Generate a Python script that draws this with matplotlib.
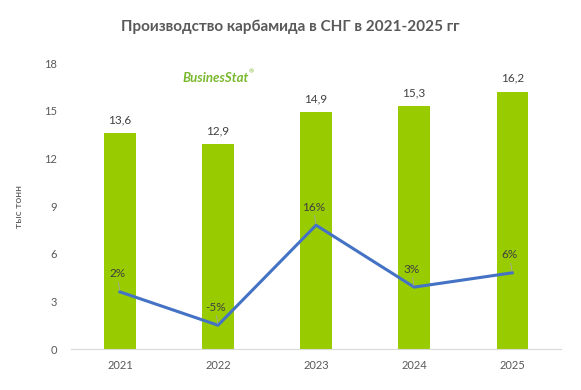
import matplotlib.pyplot as plt

# data
years = ["2021", "2022", "2023", "2024", "2025"]
volume = [13.6, 12.9, 14.9, 15.3, 16.2]
growth = [2, -5, 16, 3, 6]
volume_labels = ["13,6", "12,9", "14,9", "15,3", "16,2"]
growth_labels = ["2%", "-5%", "16%", "3%", "6%"]

plt.rcParams['font.family'] = ['Lato', 'DejaVu Sans']
grey = "#595959"

fig = plt.figure(figsize=(5.81, 3.90), dpi=100)
ax = fig.add_axes([0.122, 0.105, 0.844, 0.733])
x = list(range(len(years)))

ax.bar(x, volume, width=0.32, color="#99CC00", zorder=2)
for i, v in enumerate(volume):
    ax.text(i, v + 0.5, volume_labels[i], ha="center", va="bottom",
            fontsize=8.5, color="#404040")

ax.set_xlim(-0.5, 4.5)
ax.set_ylim(0, 18)
ax.set_yticks([0, 3, 6, 9, 12, 15, 18])
ax.set_xticks(x)
ax.set_xticklabels(years)
ax.tick_params(axis="both", length=0, labelsize=8, colors=grey, pad=8)
ax.tick_params(axis="y", pad=10)
for s in ["top", "right", "left"]:
    ax.spines[s].set_visible(False)
ax.spines["bottom"].set_color("#d9d9d9")
ax.set_ylabel("тыс тонн", fontsize=7.5, color=grey)
ax.yaxis.set_label_coords(-0.095, 0.5)

# secondary axis for growth (hidden)
ax2 = ax.twinx()
ax2.set_ylim(-10, 50)
ax2.axis("off")
ax2.plot(x, growth, color="#4472C4", linewidth=2.2, zorder=3)
for i, g in enumerate(growth):
    ax2.annotate(growth_labels[i], xy=(i, g), xytext=(-2, 9),
                 textcoords="offset points", ha="center", va="bottom",
                 fontsize=8.5, color="#404040",
                 arrowprops=dict(arrowstyle="-", color="#a6a6a6", lw=0.6,
                                 shrinkA=0, shrinkB=1))

fig.text(0.5, 0.93, "Производство карбамида в СНГ в 2021-2025 гг",
         ha="center", va="center", fontsize=11, fontweight="bold", color=grey)

# logo
fig.text(0.372, 0.80, "BusinesStat", ha="center", va="center", fontsize=9.5,
         fontweight="bold", style="italic", color="#7AB82E")
fig.text(0.428, 0.812, "®", fontsize=4.5, color="#7AB82E")

fig.savefig("out.png", dpi=100)
